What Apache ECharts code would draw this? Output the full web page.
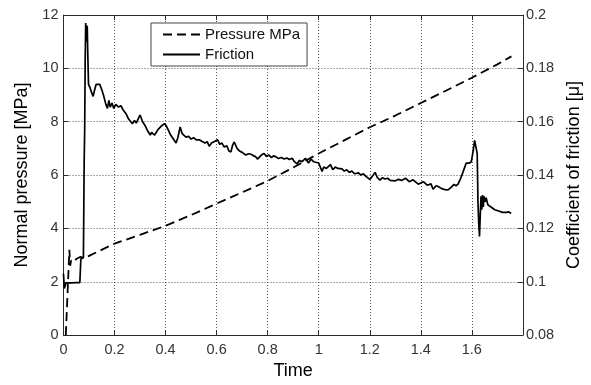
<!DOCTYPE html>
<html>
<head>
<meta charset="utf-8">
<script src="https://cdn.jsdelivr.net/npm/echarts@6/dist/echarts.min.js"></script>
<style>
html,body{margin:0;padding:0;background:#fff;}
#chart{width:591px;height:385px;}
</style>
</head>
<body>
<div id="chart"></div>
<script>
// ---- data ----
var xTicks = ['0', '0.2', '0.4', '0.6', '0.8', '1', '1.2', '1.4', '1.6'];
var pressureTime = [0.009, 0.016, 0.023, 0.026, 0.030, 0.040, 0.050, 0.065, 0.080, 0.1, 0.2, 0.3, 0.4, 0.5, 0.6, 0.7, 0.8, 0.9, 1.0, 1.1, 1.2, 1.3, 1.4, 1.5, 1.6, 1.7, 1.755];
var pressureMPa = [0.0, 1.6, 3.2, 2.6, 2.8, 2.75, 2.85, 2.93, 2.9, 2.97, 3.43, 3.76, 4.1, 4.5, 4.93, 5.35, 5.78, 6.28, 6.81, 7.3, 7.79, 8.23, 8.7, 9.17, 9.65, 10.15, 10.45];

var frictionTime = [0.000, 0.003, 0.010, 0.030, 0.050, 0.064, 0.068, 0.078, 0.081, 0.083, 0.085, 0.087, 0.089, 0.091, 0.093, 0.095, 0.098, 0.103, 0.110, 0.116, 0.122, 0.128, 0.135, 0.142, 0.150, 0.158, 0.166, 0.172, 0.178, 0.183, 0.190, 0.197, 0.205, 0.215, 0.225, 0.233, 0.245, 0.255, 0.262, 0.270, 0.278, 0.285, 0.295, 0.300, 0.310, 0.320, 0.330, 0.340, 0.345, 0.357, 0.370, 0.385, 0.396, 0.405, 0.420, 0.441, 0.448, 0.457, 0.465, 0.472, 0.480, 0.490, 0.500, 0.510, 0.520, 0.532, 0.545, 0.555, 0.563, 0.571, 0.580, 0.590, 0.604, 0.612, 0.620, 0.630, 0.640, 0.648, 0.656, 0.662, 0.669, 0.680, 0.690, 0.700, 0.714, 0.725, 0.735, 0.745, 0.753, 0.760, 0.766, 0.775, 0.786, 0.795, 0.805, 0.815, 0.823, 0.831, 0.842, 0.853, 0.865, 0.875, 0.885, 0.896, 0.905, 0.915, 0.925, 0.935, 0.948, 0.960, 0.970, 0.980, 0.987, 1.000, 1.013, 1.020, 1.030, 1.046, 1.055, 1.065, 1.075, 1.091, 1.100, 1.110, 1.120, 1.130, 1.140, 1.156, 1.165, 1.175, 1.185, 1.200, 1.210, 1.221, 1.230, 1.240, 1.250, 1.260, 1.270, 1.280, 1.299, 1.312, 1.325, 1.340, 1.355, 1.370, 1.390, 1.400, 1.410, 1.425, 1.440, 1.448, 1.460, 1.468, 1.480, 1.495, 1.507, 1.520, 1.530, 1.538, 1.546, 1.555, 1.565, 1.578, 1.590, 1.598, 1.605, 1.611, 1.617, 1.621, 1.624, 1.627, 1.630, 1.633, 1.636, 1.639, 1.642, 1.645, 1.648, 1.652, 1.656, 1.663, 1.675, 1.690, 1.705, 1.720, 1.735, 1.745, 1.754];
var frictionCoef = [0.1030, 0.0975, 0.0995, 0.0996, 0.0997, 0.0997, 0.1085, 0.1090, 0.1450, 0.1570, 0.1830, 0.1970, 0.1975, 0.1900, 0.1960, 0.1860, 0.1740, 0.1730, 0.1710, 0.1695, 0.1720, 0.1740, 0.1745, 0.1740, 0.1720, 0.1695, 0.1665, 0.1650, 0.1680, 0.1655, 0.1670, 0.1650, 0.1665, 0.1655, 0.1660, 0.1645, 0.1630, 0.1610, 0.1605, 0.1592, 0.1605, 0.1595, 0.1615, 0.1625, 0.1600, 0.1585, 0.1565, 0.1550, 0.1560, 0.1550, 0.1570, 0.1585, 0.1593, 0.1580, 0.1550, 0.1520, 0.1540, 0.1580, 0.1555, 0.1550, 0.1542, 0.1545, 0.1535, 0.1540, 0.1532, 0.1532, 0.1525, 0.1520, 0.1525, 0.1508, 0.1520, 0.1525, 0.1532, 0.1515, 0.1520, 0.1505, 0.1510, 0.1490, 0.1487, 0.1510, 0.1524, 0.1500, 0.1490, 0.1485, 0.1475, 0.1480, 0.1478, 0.1472, 0.1469, 0.1460, 0.1454, 0.1475, 0.1481, 0.1470, 0.1475, 0.1465, 0.1472, 0.1469, 0.1462, 0.1466, 0.1460, 0.1464, 0.1458, 0.1463, 0.1450, 0.1442, 0.1455, 0.1450, 0.1463, 0.1445, 0.1460, 0.1450, 0.1457, 0.1445, 0.1414, 0.1430, 0.1425, 0.1439, 0.1420, 0.1430, 0.1425, 0.1423, 0.1415, 0.1420, 0.1410, 0.1415, 0.1405, 0.1408, 0.1400, 0.1405, 0.1395, 0.1384, 0.1395, 0.1410, 0.1390, 0.1381, 0.1390, 0.1385, 0.1388, 0.1380, 0.1378, 0.1384, 0.1380, 0.1388, 0.1375, 0.1382, 0.1366, 0.1370, 0.1375, 0.1362, 0.1367, 0.1347, 0.1360, 0.1357, 0.1350, 0.1345, 0.1344, 0.1355, 0.1365, 0.1360, 0.1366, 0.1385, 0.1410, 0.1445, 0.1445, 0.1450, 0.1490, 0.1530, 0.1528, 0.1480, 0.1300, 0.1220, 0.1170, 0.1250, 0.1320, 0.1270, 0.1325, 0.1280, 0.1320, 0.1300, 0.1315, 0.1288, 0.1280, 0.1270, 0.1265, 0.1260, 0.1260, 0.1262, 0.1256];

function pairs(xs, ys) {
  var out = [];
  for (var i = 0; i < xs.length; i++) out.push([xs[i], ys[i]]);
  return out;
}

var FONT = "'Liberation Sans', Arial, sans-serif";
var AXIS_COLOR = '#2b2b2b';
var LABEL_COLOR = '#333';

var chart = echarts.init(document.getElementById('chart'), null, {renderer: 'canvas'});
chart.setOption({
  animation: false,
  backgroundColor: '#fff',
  textStyle: {fontFamily: FONT},
  grid: {left: 63.5, right: 65.5, top: 15, bottom: 42, containLabel: false},
  legend: {
    orient: 'vertical',
    left: 151,
    top: 23,
    backgroundColor: '#fff',
    borderColor: '#444',
    borderWidth: 1,
    borderRadius: 0,
    padding: [4, 7, 4, 11],
    itemWidth: 37,
    itemHeight: 14,
    itemGap: 5,
    itemStyle: {opacity: 0},
    textStyle: {fontFamily: FONT, fontSize: 15, color: '#111'},
    data: ['Pressure MPa', 'Friction']
  },
  xAxis: [{
    type: 'value', min: 0, max: 1.8, interval: 0.2,
    name: 'Time', nameLocation: 'middle', nameGap: 23,
    nameTextStyle: {fontFamily: FONT, fontSize: 18, color: '#000'},
    axisLine: {show: true, onZero: false, lineStyle: {color: AXIS_COLOR, width: 1}},
    axisTick: {show: true, inside: true, length: 5, lineStyle: {color: AXIS_COLOR}},
    axisLabel: {
      fontFamily: FONT, fontSize: 14.5, color: LABEL_COLOR, margin: 7, showMaxLabel: false,
      formatter: function (v) { var i = Math.round(v / 0.2); return i < xTicks.length ? xTicks[i] : ''; }
    },
    splitLine: {show: true, lineStyle: {color: '#555', type: [1, 2], width: 1}}
  }, {
    type: 'value', min: 0, max: 1.8, interval: 0.2, position: 'top',
    axisLine: {show: true, onZero: false, lineStyle: {color: AXIS_COLOR, width: 1}},
    axisTick: {show: true, inside: true, length: 5, lineStyle: {color: AXIS_COLOR}},
    axisLabel: {show: false},
    splitLine: {show: false}
  }],
  yAxis: [{
    type: 'value', min: 0, max: 12, interval: 2, position: 'left',
    name: 'Normal pressure [MPa]', nameLocation: 'middle', nameGap: 26, nameRotate: 90,
    nameTextStyle: {fontFamily: FONT, fontSize: 18, color: '#000'},
    axisLine: {show: true, onZero: false, lineStyle: {color: AXIS_COLOR, width: 1}},
    axisTick: {show: true, inside: true, length: 5, lineStyle: {color: AXIS_COLOR}},
    axisLabel: {fontFamily: FONT, fontSize: 14.5, color: LABEL_COLOR, margin: 5},
    splitLine: {show: true, lineStyle: {color: '#555', type: [1, 2], width: 1}}
  }, {
    type: 'value', min: 0.08, max: 0.2, interval: 0.02, position: 'right',
    name: 'Coefficient of friction [\u03bc]', nameLocation: 'middle', nameGap: 37, nameRotate: 90,
    nameTextStyle: {fontFamily: FONT, fontSize: 18, color: '#000'},
    axisLine: {show: true, onZero: false, lineStyle: {color: AXIS_COLOR, width: 1}},
    axisTick: {show: true, inside: true, length: 5, lineStyle: {color: AXIS_COLOR}},
    axisLabel: {
      fontFamily: FONT, fontSize: 14.5, color: LABEL_COLOR, margin: 3,
      formatter: function (v) { return String(+v.toFixed(2)); }
    },
    splitLine: {show: false}
  }],
  series: [{
    name: 'Pressure MPa', type: 'line', xAxisIndex: 0, yAxisIndex: 0,
    symbol: 'none', showSymbol: false,
    lineStyle: {color: '#000', width: 1.8, type: [9, 5]},
    itemStyle: {color: '#000'},
    data: pairs(pressureTime, pressureMPa),
    z: 3
  }, {
    name: 'Friction', type: 'line', xAxisIndex: 0, yAxisIndex: 1,
    symbol: 'none', showSymbol: false,
    lineStyle: {color: '#000', width: 1.7, type: 'solid'},
    itemStyle: {color: '#000'},
    data: pairs(frictionTime, frictionCoef),
    z: 4
  }]
});
</script>
</body>
</html>
